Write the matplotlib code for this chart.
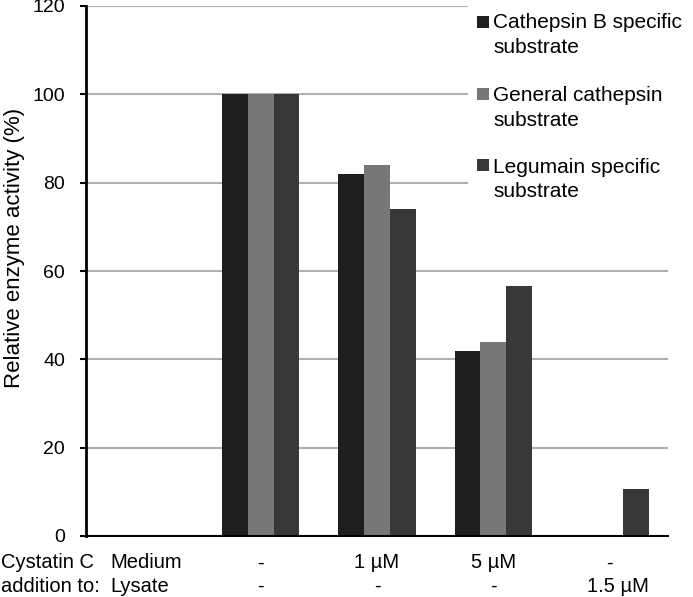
import matplotlib
matplotlib.use('Agg')
from matplotlib import pyplot as plt
from matplotlib.patches import Rectangle
import matplotlib.transforms as mtransforms
import numpy as np

plt.rcParams['font.family'] = ['Liberation Sans', 'DejaVu Sans']

series = ['Cathepsin B specific\nsubstrate',
          'General cathepsin\nsubstrate',
          'Legumain specific\nsubstrate']
colors = ['#1e1e1e', '#777777', '#383838']

# five conditions, first one has no bars
cathepsin_b = [0, 100, 82, 42, 0]
general_cath = [0, 100, 84, 44, 0]
legumain = [0, 100, 74, 56.5, 10.7]
values = [cathepsin_b, general_cath, legumain]

medium_labels = ['', '-', '1 µM', '5 µM', '-']
lysate_labels = ['', '-', '-', '-', '1.5 µM']
yticks = [0, 20, 40, 60, 80, 100, 120]

W, H = 693, 597
fig = plt.figure(figsize=(W / 100, H / 100), dpi=100)
ax = fig.add_axes([86 / W, 1 - 536 / H, (668 - 86) / W, (536 - 6) / H])

x = np.arange(len(cathepsin_b))
width = 0.222
for i, vals in enumerate(values):
    ax.bar(x + (i - 1) * width, vals, width, color=colors[i],
           linewidth=0, zorder=3)

ax.set_xlim(-0.5, len(x) - 0.5)
ax.set_ylim(0, 120)
ax.set_yticks(yticks)
ax.set_yticklabels([str(t) for t in yticks], fontsize=14)
ax.yaxis.grid(True, color='#b0b0b0', linewidth=1.5, zorder=0)
ax.set_axisbelow(True)
ax.tick_params(axis='y', direction='out', length=4.5, width=1.5, pad=10.5)
ax.tick_params(axis='x', length=0, labelbottom=False)
for s in ['top', 'right']:
    ax.spines[s].set_visible(False)
ax.spines['left'].set_linewidth(2)
ax.spines['bottom'].set_linewidth(1.5)
ax.spines['bottom'].set_zorder(4)

ax.set_ylabel('Relative enzyme activity (%)', fontsize=16)
ax.yaxis.set_label_coords(-(86 - 25) / (668 - 86), (536 - 248) / 530)

# category labels below the axis
tr = ax.get_xaxis_transform()
row1 = (536 - 563) / 530
row2 = (536 - 586) / 530
for xi, lab in zip(x, medium_labels):
    ax.text(xi, row1, lab, transform=tr, ha='center', va='center', fontsize=14.5)
for xi, lab in zip(x, lysate_labels):
    t = tr
    if xi == x[-1]:
        # last label sits a little right of centre in the original
        t = tr + mtransforms.ScaledTranslation(8 / 100, 0, fig.dpi_scale_trans)
    ax.text(xi, row2, lab, transform=t, ha='center', va='center', fontsize=14.5)
ax.text(-0.294, row1, 'Medium', transform=tr, ha='left', va='center', fontsize=14.5)
ax.text(-0.294, row2, 'Lysate', transform=tr, ha='left', va='center', fontsize=14.5)
fig.text(1 / W, 1 - 563 / H, 'Cystatin C', ha='left', va='center', fontsize=14.5)
fig.text(1 / W, 1 - 586 / H, 'addition to:', ha='left', va='center', fontsize=14.5)

# legend drawn over the grid, top right
fig.patches.append(Rectangle((468 / W, 1 - 250 / H), 1 - 468 / W, 250 / H,
                             transform=fig.transFigure, facecolor='white',
                             edgecolor='none', zorder=5))
sq_y = [22, 94, 165]
txt_y = [35, 108, 179.5]
for i, name in enumerate(series):
    fig.patches.append(Rectangle((477 / W, 1 - (sq_y[i] + 6) / H), 12 / W, 12 / H,
                                 transform=fig.transFigure, facecolor=colors[i],
                                 edgecolor='none', zorder=6))
    fig.text(493 / W, 1 - txt_y[i] / H, name, ha='left', va='center',
             fontsize=15, linespacing=1.38, zorder=6)

fig.savefig('out.png', dpi=100)
